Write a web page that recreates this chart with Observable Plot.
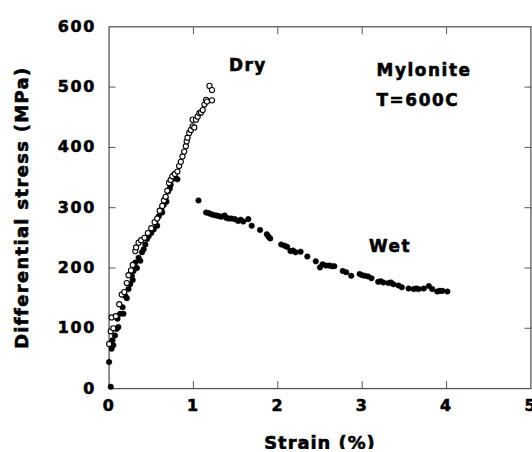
<!DOCTYPE html>
<html>
<head>
<meta charset="utf-8">
<script src="https://cdn.jsdelivr.net/npm/d3@7"></script>
<script src="https://cdn.jsdelivr.net/npm/@observablehq/plot@0.6"></script>
<style>
  html, body { margin: 0; padding: 0; background: #fff; overflow: hidden; }
  svg text { font-family: "DejaVu Sans", sans-serif; font-weight: bold; fill: #000; stroke: #000; stroke-width: 0.6px; paint-order: stroke; }
  g[aria-label="x-axis tick label"] text, g[aria-label="y-axis tick label"] text { font-size: 16px; letter-spacing: 1.8px; }
  g[aria-label="y-axis label"] text { font-size: 18px; letter-spacing: 1.4px; }
  g[aria-label="x-axis label"] text { font-size: 18px; letter-spacing: 1px; }
  g[aria-label="text"] text { font-size: 17px; letter-spacing: 1.6px; }
</style>
</head>
<body>
<div id="chart"></div>
<script>
const xTicks = [0, 1, 2, 3, 4, 5];
const yTicks = [0, 100, 200, 300, 400, 500, 600];
const innerYTicks = [100, 200, 300, 400, 500];
const innerXTicks = [1, 2, 3, 4];

const dryStrain = [0.00,0.02,0.03,0.05,0.08,0.12,0.15,0.18,0.21,0.23,0.26,0.28,0.31,0.32,0.35,0.38,0.42,0.46,0.50,0.54,0.57,0.60,0.63,0.65,0.67,0.69,0.71,0.73,0.75,0.78,0.81,0.83,0.85,0.87,0.89,0.91,0.92,0.93,0.95,0.97,0.99,1.01,0.99,1.03,1.05,1.07,1.09,1.11,1.13,1.15,1.16,1.19,1.22,1.22];
const dryStress = [74,95,118,100,120,140,156,160,175,188,196,205,228,234,242,246,250,258,266,276,282,295,303,312,318,328,341,346,352,356,360,369,376,385,393,402,410,416,424,429,435,433,446,446,451,457,458,462,471,479,476,502,495,478];

const wetStrain = [0.02,0.00,0.03,0.05,0.04,0.07,0.09,0.11,0.10,0.13,0.17,0.16,0.19,0.21,0.23,0.25,0.27,0.28,0.29,0.31,0.33,0.35,0.37,0.39,0.41,0.43,0.45,0.47,0.50,0.53,0.55,0.57,0.59,0.62,0.63,0.65,0.67,0.68,0.70,0.72,0.73,0.75,0.77,0.79,0.81,
  1.06,1.15,1.18,1.21,1.24,1.27,1.30,1.33,1.37,1.39,1.42,1.45,1.49,1.53,1.56,1.59,1.65,1.69,1.79,1.87,1.89,1.91,2.04,2.08,2.11,2.15,2.18,2.21,2.27,2.35,2.45,2.50,2.53,2.57,2.61,2.64,2.67,2.77,2.81,2.87,2.97,3.00,3.03,3.07,3.11,3.19,3.22,3.25,3.31,3.34,3.37,3.43,3.47,3.55,3.61,3.64,3.67,3.73,3.79,3.83,3.89,3.92,3.95,4.01];
const wetStress = [3,44,66,72,80,88,99,102,116,124,124,135,154,150,165,173,187,180,195,209,200,217,212,226,231,239,248,253,258,264,275,270,286,297,292,305,316,310,327,332,338,347,355,349,347,
  312,292,291,289,288,287,286,285,287,283,282,282,281,278,280,277,281,270,263,256,252,249,239,237,235,228,229,226,227,219,211,201,206,204,204,203,203,195,193,187,190,188,187,186,183,177,178,176,175,176,173,171,168,166,165,166,165,166,170,165,161,162,162,161];

const wet = wetStrain.map((x, i) => ({x, y: wetStress[i]}));
const dry = dryStrain.map((x, i) => ({x, y: dryStress[i]}));

const labels = [
  {x: 1.42, y: 536, t: "Dry"},
  {x: 3.17, y: 527, t: "Mylonite"},
  {x: 3.17, y: 478, t: "T=600C"},
  {x: 3.08, y: 236, t: "Wet"}
];

const axisColor = "#555";

const chart = Plot.plot({
  width: 536,
  height: 452,
  marginLeft: 109.4,
  marginRight: 1.6,
  marginTop: 26.5,
  marginBottom: 61,
  style: {background: "#fff", color: "#000", overflow: "visible"},
  x: {domain: [0, 5]},
  y: {domain: [0, 600]},
  marks: [
    Plot.frame({stroke: axisColor, strokeWidth: 1.3}),
    Plot.axisX(xTicks, {anchor: "bottom", tickSize: 0, tickPadding: 11, fontWeight: "bold",
      label: "Strain (%)", labelAnchor: "center", labelArrow: "none", labelOffset: 61}),
    Plot.axisX(innerXTicks, {anchor: "bottom", tickSize: -7, tickFormat: () => "", label: null, stroke: axisColor}),
    Plot.axisX(innerXTicks, {anchor: "top", tickSize: -7, tickFormat: () => "", label: null, stroke: axisColor}),
    Plot.axisY(yTicks, {anchor: "left", tickSize: 0, tickPadding: 13, fontWeight: "bold",
      label: "Differential stress (MPa)", labelAnchor: "center", labelArrow: "none", labelOffset: 94}),
    Plot.axisY(innerYTicks, {anchor: "left", tickSize: -7, tickFormat: () => "", label: null, stroke: axisColor}),
    Plot.axisY(innerYTicks, {anchor: "right", tickSize: -7, tickFormat: () => "", label: null, stroke: axisColor}),
    Plot.dot(wet, {x: "x", y: "y", r: 2.8, fill: "#000", stroke: "#000", strokeWidth: 0.5}),
    Plot.dot(dry, {x: "x", y: "y", r: 2.6, fill: "#fff", stroke: "#000", strokeWidth: 1.1}),
    Plot.text(labels, {x: "x", y: "y", text: "t", textAnchor: "start", fontWeight: "bold"})
  ]
});
document.getElementById("chart").appendChild(chart);
</script>
</body>
</html>
